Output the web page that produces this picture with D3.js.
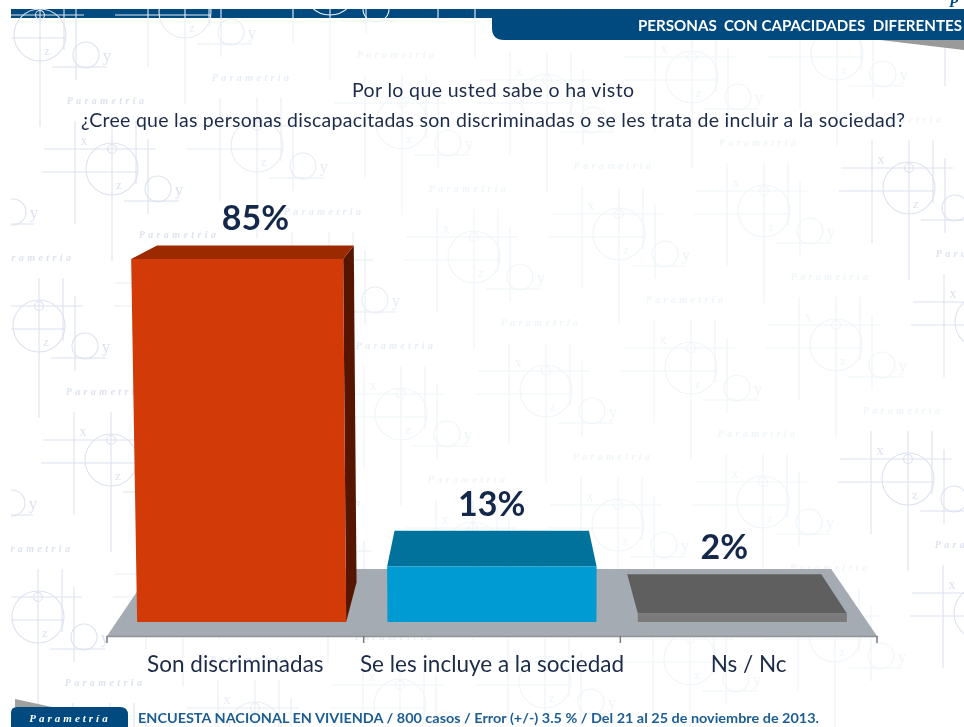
<!DOCTYPE html>
<html>
<head>
<meta charset="utf-8">
<script src="https://cdn.jsdelivr.net/npm/d3@7"></script>
<style>
  html, body { margin: 0; padding: 0; background: #fff; }
  svg { display: block; filter: blur(0.4px); }
  text { font-family: Lato, "Open Sans", sans-serif; }
</style>
</head>
<body>
<svg id="chart"></svg>
<script>
const categories = ['Son discriminadas', 'Se les incluye a la sociedad', 'Ns / Nc']
const values = [85, 13, 2]
const frontColors = ['#d23a07', '#009bd2', '#7a7a7a']
const topColors = ['#9c2a00', '#00729b', '#5f5f5f']
const sideColors = ['#551500', '#00729b', '#5f5f5f']
const titleLines = [
  'Por lo que usted sabe o ha visto',
  '¿Cree que las personas discapacitadas son discriminadas o se les trata de incluir a la sociedad?'
]
const headerText = 'PERSONAS  CON CAPACIDADES  DIFERENTES'
const footerText = 'ENCUESTA NACIONAL EN VIVIENDA / 800 casos / Error (+/-) 3.5 % / Del 21 al 25 de noviembre de 2013.'

const width = 964
const height = 727
const floorFront = 636
const barBase = 622
const depth = 0.072
const vanish = { x: 490, y: 70 }

const svg = d3.select('#chart').attr('width', width).attr('height', height)

// scales: the axis sits on the front edge of the floor, the bars a bit further in
const xAxis = d3.scaleBand().domain(categories).range([107, 877])
const x = d3.scaleBand().domain(categories).range([116.5, 867.5])
  .paddingInner(0.165).paddingOuter(0.0825)
const y = d3.scaleLinear().domain([0, 100]).range([barBase, 195])

// pull a point towards the vanishing point
function back(p, t) {
  return [p[0] + (vanish.x - p[0]) * t, p[1] + (vanish.y - p[1]) * t]
}
// tall bars lean slightly to the left in the original
function lean(px, py) {
  return [px + (px - 555) * (barBase - py) * 3.95e-5, py]
}
const line = pts => 'M' + pts.map(p => p.join(',')).join('L') + 'Z'

// top band, left part (watermark lines run over it)
svg.append('rect').attr('x', 11).attr('y', 9).attr('width', 953).attr('height', 9).attr('fill', '#004a80')

// watermark
const clip = svg.append('clipPath').attr('id', 'wm-clip')
clip.append('rect').attr('x', 11).attr('y', 9).attr('width', width).attr('height', height)
const blur = svg.append('filter').attr('id', 'soft')
blur.append('feGaussianBlur').attr('stdDeviation', 0.5)

const motifs = []
for (let j = 0; j < 6; j++) {
  for (let i = -3; i < 8; i++) {
    const cx = 40 + i * 145 + j * 72
    const cy = 35 - i * 23 + j * 134
    if (cx > -60 && cx < 1040 && cy > -100 && cy < 790) motifs.push([cx, cy])
  }
}
const wm = svg.append('g').attr('clip-path', 'url(#wm-clip)').attr('filter', 'url(#soft)')
wm.selectAll('g').data(motifs).enter().append('g')
  .attr('transform', d => `translate(${d[0]},${d[1]})`)
  .each(function (d) {
    const c = d[0] < 120 || d[0] > 880 ? '#dce2ee' : d[0] < 330 ? '#e7edf4' : '#eff5f8'
    const g = d3.select(this).attr('fill', 'none').attr('stroke', c).attr('stroke-width', 1.1)
    const segs = [
      [0, -48, 0, 92], [-37, -48, -37, 55], [24, -48, 24, 15], [36, -30, 36, 45],
      [-68, -20, 44, -20], [-70, 3, 26, 3], [12, 32, 67, 32]
    ]
    segs.forEach(s => g.append('line').attr('x1', s[0]).attr('y1', s[1]).attr('x2', s[2]).attr('y2', s[3]))
    g.append('circle').attr('r', 26)
    g.append('circle').attr('cy', -20).attr('r', 4.5)
    g.append('circle').attr('cx', 46).attr('cy', 20).attr('r', 13)
    const t = g.append('g').attr('fill', c).attr('stroke', 'none')
    // letters that would fall outside the sheet are left out
    const letter = (s, lx, ly, size) => {
      const ax = d[0] + lx, ay = d[1] + ly
      if (ax < 18 || ax > 957 || ay < 22 || ay > 720) return
      t.append('text').text(s).attr('x', lx).attr('y', ly)
        .attr('font-size', size).attr('text-anchor', 'middle').style('font-family', '"Liberation Serif", serif')
    }
    letter('x', -28, -24, 14)
    letter('z', 7, 20, 13)
    letter('y', 67, 26, 17)
    const tx = d[0] + 67, ty = d[1] + 69
    if (tx > -30 && tx < 994 && ty > 22 && ty < 705) {
      t.append('text').text('Parametria').attr('x', 67).attr('y', 69)
        .attr('text-anchor', 'middle').attr('font-size', 10).attr('font-style', 'italic').attr('font-weight', 700)
        .attr('letter-spacing', 3.4)
        .style('font-family', '"Liberation Serif", serif')
    }
  })

// header tab
svg.append('path').attr('d', 'M880,40L964,40L964,50Z').attr('fill', '#9a9a9a')
svg.append('path').attr('d', 'M492,9L964,9L964,40L504,40Q492,40 492,28Z').attr('fill', '#004a80')
svg.append('text').text(headerText).attr('x', 638).attr('y', 31)
  .attr('font-size', 15).attr('font-weight', 700).attr('fill', '#fff')
  .attr('textLength', 324).attr('lengthAdjust', 'spacingAndGlyphs').style('white-space', 'pre')
svg.append('text').text('P').attr('x', 949).attr('y', 7)
  .attr('font-size', 15).attr('font-weight', 700).attr('font-style', 'italic').attr('fill', '#004a80')
  .style('font-family', '"Liberation Serif", serif')

// title
const titleLayout = [[352, 97, 282], [81, 127, 824]]
svg.selectAll('.title').data(titleLines).enter().append('text')
  .attr('class', 'title')
  .text(d => d)
  .attr('x', (d, i) => titleLayout[i][0])
  .attr('y', (d, i) => titleLayout[i][1])
  .attr('textLength', (d, i) => titleLayout[i][2])
  .attr('lengthAdjust', 'spacing')
  .attr('font-size', 19.5)
  .attr('fill', '#1c2b4a')

// floor
const fl = [107, floorFront], fr = [877, floorFront]
const floorDepth = (floorFront - 569) / (floorFront - vanish.y)
svg.append('path')
  .attr('d', line([fl, fr, back(fr, floorDepth), back(fl, floorDepth)]))
  .attr('fill', '#a5abb2')

// axis
const axis = svg.append('g').attr('class', 'x-axis')
  .attr('transform', `translate(0,${floorFront})`)
  .call(d3.axisBottom(xAxis).tickSize(0).tickPadding(20).tickSizeOuter(0))
axis.select('.domain').attr('stroke', '#8e9398').attr('stroke-width', 1.5)
axis.selectAll('text').attr('font-size', 22.5).attr('fill', '#1c2b4a')
  .style('font-family', 'Lato, sans-serif')
const boundaries = categories.map(c => xAxis(c)).concat([xAxis.range()[1]])
svg.selectAll('.tick-mark').data(boundaries).enter().append('line')
  .attr('class', 'tick-mark')
  .attr('x1', d => d).attr('x2', d => d)
  .attr('y1', floorFront).attr('y2', floorFront + 7)
  .attr('stroke', '#77797c').attr('stroke-width', 1.5)

// bars
const bars = svg.selectAll('.bar').data(categories).enter().append('g').attr('class', 'bar')
bars.each(function (c, i) {
  const g = d3.select(this)
  const x0 = x(c), x1 = x(c) + x.bandwidth()
  const top = y(values[i])
  const tl = lean(x0, top), tr = lean(x1, top)
  const bl = [x0, barBase], br = [x1, barBase]
  // only the first bar shows its right side
  if (x1 < vanish.x) {
    g.append('path').attr('d', line([br, tr, back(tr, depth), back(br, depth)])).attr('fill', sideColors[i])
  }
  g.append('path').attr('d', line([tl, tr, back(tr, depth), back(tl, depth)])).attr('fill', topColors[i])
  g.append('path').attr('d', line([bl, br, tr, tl])).attr('fill', frontColors[i])
  const backTop = back(tl, depth)
  const mid = (backTop[0] + back(tr, depth)[0]) / 2
  g.append('text').text(values[i] + '%')
    .attr('x', mid).attr('y', backTop[1] - 15)
    .attr('text-anchor', 'middle')
    .attr('font-size', 34).attr('font-weight', 700)
    .attr('fill', '#14284b')
})

// footer
svg.append('path').attr('d', 'M15,699L52,707L15,707Z').attr('fill', '#a0a0a0')
svg.append('path').attr('d', 'M11,727L11,713Q11,707 17,707L120,707Q128,707 128,715L128,727Z').attr('fill', '#004a80')
svg.append('text').text('Parametría').attr('x', 70).attr('y', 722)
  .attr('text-anchor', 'middle').attr('font-size', 11).attr('font-weight', 700).attr('font-style', 'italic')
  .attr('letter-spacing', 3).attr('fill', '#fff')
  .style('font-family', '"Liberation Serif", serif')
svg.append('text').text(footerText).attr('x', 138).attr('y', 723)
  .attr('font-size', 13).attr('font-weight', 700).attr('fill', '#1b5d94')
  .attr('textLength', 681).attr('lengthAdjust', 'spacingAndGlyphs')
</script>
</body>
</html>
